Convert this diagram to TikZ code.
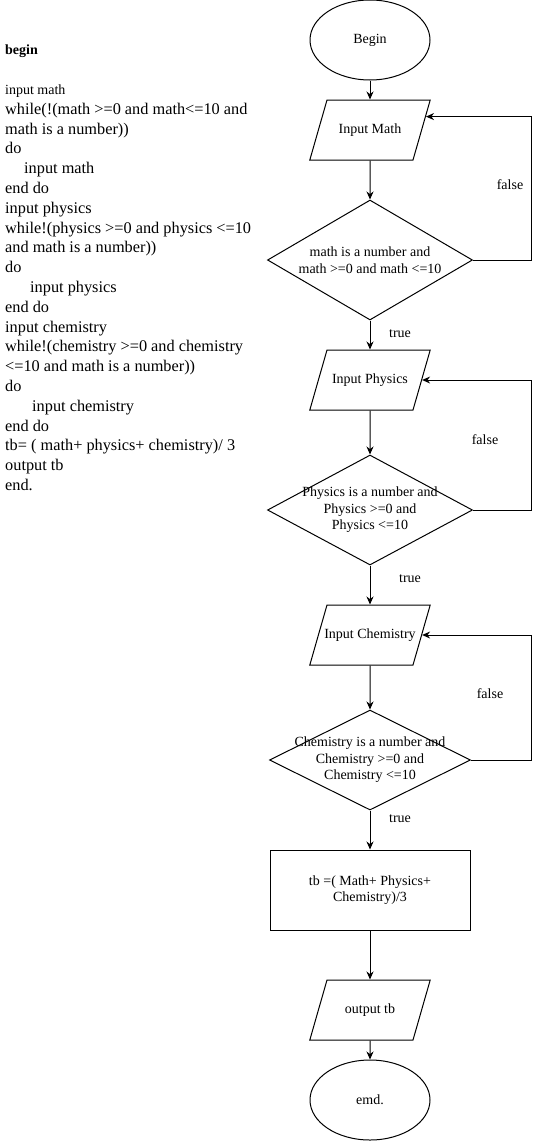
\documentclass[tikz,border=0pt]{standalone}
\usepackage{fontspec}
\setmainfont{Liberation Serif}
\usetikzlibrary{shapes.geometric,arrows.meta,calc}

\newcommand{\smallcode}{\fontsize{14}{19.8}\selectfont}
\newcommand{\iobox}[1]{\makebox[86pt]{#1}}

\tikzset{
    txt/.style={font=\fontsize{14}{16.5}\selectfont},
    terminal/.style={txt,draw,ellipse,line width=1pt,minimum width=120pt,minimum height=80pt,inner sep=0pt},
    io/.style={txt,draw,trapezium,trapezium left angle=74,trapezium right angle=106,
        line width=1pt,text height=33pt,text depth=27pt,inner sep=0pt},
    decision/.style={txt,draw,diamond,align=center,line width=1pt,inner sep=-40pt},
    process/.style={txt,draw,rectangle,align=center,line width=1pt,minimum width=200pt,minimum height=80pt},
    arr/.style={-{Stealth[length=8pt,width=7pt]},line width=1pt},
    lbl/.style={txt,inner sep=0pt}
}

\begin{document}
\begin{tikzpicture}[x=1pt,y=-1pt]
    \useasboundingbox (0,0) rectangle (541,1141);

    % pseudocode
    \node[anchor=north west,align=left,inner sep=0pt,font=\fontsize{16.3}{19.8}\selectfont] (code) at (5,45)
        {{\smallcode\textbf{begin}}\\[19.8pt]
         {\smallcode input math}\\
         while(!(math >=0 and math<=10 and\\
         math is a number))\\
         do\\
         \hspace*{19pt}input math\\
         end do\\
         input physics\\
         while!(physics >=0 and physics <=10\\
         and math is a number))\\
         do\\
         \hspace*{25pt}input physics\\
         end do\\
         input chemistry\\
         while!(chemistry >=0 and chemistry\\
         <=10 and math is a number))\\
         do\\
         \hspace*{27pt}input chemistry\\
         end do\\
         tb= ( math+ physics+ chemistry)/ 3\\
         output tb\\
         end.};

    % flowchart
    \node[terminal] (begin) at (370,40) {Begin};
    \node[io] (math) at (370,130) {\iobox{Input Math}};
    \node[decision,minimum width=205pt,minimum height=120pt] (chkmath) at (370,260)
        {math is a number and\\math >=0 and math <=10};
    \node[io] (phys) at (370,380) {\iobox{Input Physics}};
    \node[decision,minimum width=205pt,minimum height=110pt] (chkphys) at (370,510)
        {Physics is a number and\\Physics >=0 and\\Physics <=10};
    \node[io] (chem) at (370,635) {\iobox{Input Chemistry}};
    \node[decision,minimum width=201pt,minimum height=100pt] (chkchem) at (370,760)
        {Chemistry is a number and\\Chemistry >=0 and\\Chemistry <=10};
    \node[process] (avg) at (370,890) {tb =( Math+ Physics+\\Chemistry)/3};
    \node[io] (out) at (370,1010) {\iobox{output tb}};
    \node[terminal] (end) at (370,1100) {emd.};

    \draw[arr] (begin) -- (math);
    \draw[arr] (math) -- (chkmath);
    \draw[arr] (chkmath) -- (phys);
    \draw[arr] (phys) -- (chkphys);
    \draw[arr] (chkphys) -- (chem);
    \draw[arr] (chem) -- (chkchem);
    \draw[arr] (chkchem) -- (avg);
    \draw[arr] (avg) -- (out);
    \draw[arr] (out) -- (end);

    % false loops
    \draw[arr] (chkmath.east) -- ++(58,0) |- ($(math.top right corner)!.28!(math.bottom right corner)$);
    \draw[arr] (chkphys.east) -- ++(58,0) |- (phys.east);
    \draw[arr] (chkchem.east) -- ++(60,0) |- (chem.east);

    \node[lbl] (f1) at (510,185) {false};
    \node[lbl] (f2) at (485,440) {false};
    \node[lbl] (f3) at (490,694) {false};
    \node[lbl] (t1) at (400,334) {true};
    \node[lbl] (t2) at (410,579) {true};
    \node[lbl] (t3) at (400,819) {true};
\end{tikzpicture}
\end{document}
